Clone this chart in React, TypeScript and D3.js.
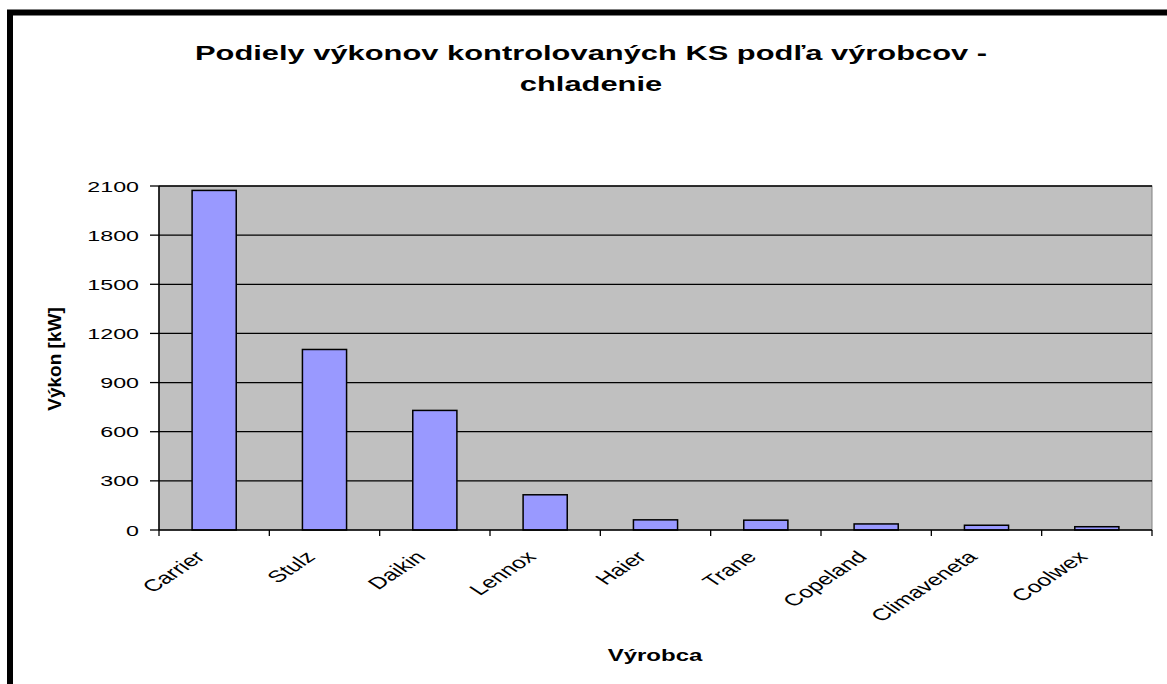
import React from "react";
import * as d3 from "d3";

const categories = ["Carrier", "Stulz", "Daikin", "Lennox", "Haier", "Trane", "Copeland", "Climaveneta", "Coolwex"];
const values = [2073, 1102, 730, 215, 62, 60, 37, 29, 20];
const yTicks = [0, 300, 600, 900, 1200, 1500, 1800, 2100];
const titleLines = ["Podiely výkonov kontrolovaných KS podľa výrobcov -", "chladenie"];
const yLabel = "Výkon [kW]";
const xLabel = "Výrobca";

const W = 1167;
const H = 684;
const SX = 1.5;
const FONT = "'Liberation Sans', Arial, sans-serif";

export default function App() {
  const left = 159, right = 1152, top = 186, bottom = 530;
  const x = d3.scaleBand<string>().domain(categories).range([left, right]).paddingInner(0.6).paddingOuter(0.3);
  const y = d3.scaleLinear().domain([0, 2100]).range([bottom, top]);
  const step = x.step();
  const boundaries = d3.range(categories.length + 1).map((i) => left + i * step);

  return (
    <svg width={W} height={H} style={{ position: "absolute", left: 0, top: 0, background: "#fff" }} fontFamily={FONT}>
      <rect x={10} y={12.5} width={1300} height={800} fill="#fff" stroke="#000" strokeWidth={6} />
      {titleLines.map((t, i) => (
        <text key={i} transform={`translate(591,${60 + i * 31}) scale(1.47,1)`} textAnchor="middle" fontSize={21} fontWeight="bold">
          {t}
        </text>
      ))}
      <rect x={left} y={top} width={right - left} height={bottom - top} fill="#C0C0C0" stroke="#808080" strokeWidth={1} />
      {yTicks.map((t) => (
        <g key={t}>
          {t > 0 && <line x1={left} x2={right} y1={y(t)} y2={y(t)} stroke="#000" strokeWidth={1.3} />}
          <line x1={left - 9} x2={left} y1={y(t)} y2={y(t)} stroke="#000" strokeWidth={1.3} />
          <text transform={`translate(139,${y(t)}) scale(${SX},1)`} textAnchor="end" dy="0.36em" fontSize={15.5}>
            {t}
          </text>
        </g>
      ))}
      {categories.map((c, i) => (
        <rect key={c} x={x(c)} y={y(values[i])} width={x.bandwidth()} height={bottom - y(values[i])} fill="#9999FF" stroke="#000" strokeWidth={1.5} />
      ))}
      <line x1={left} x2={left} y1={top} y2={bottom} stroke="#000" strokeWidth={1.5} />
      <line x1={left} x2={right} y1={bottom} y2={bottom} stroke="#000" strokeWidth={1.5} />
      {boundaries.map((b, i) => (
        <line key={i} x1={b} x2={b} y1={bottom} y2={bottom + 6} stroke="#000" strokeWidth={1.3} />
      ))}
      {categories.map((c) => {
        const cx = (x(c) as number) + x.bandwidth() / 2;
        return (
          <text key={c} transform={`translate(${cx - 8},${bottom + 28}) scale(${SX},1) rotate(-45)`} textAnchor="end" fontSize={16.5}>
            {c}
          </text>
        );
      })}
      <text transform={`translate(655,661) scale(${SX},1)`} textAnchor="middle" fontSize={16} fontWeight="bold">
        {xLabel}
      </text>
      <text transform={`translate(61,359) rotate(-90)`} textAnchor="middle" fontSize={19} fontWeight="bold">
        {yLabel}
      </text>
    </svg>
  );
}
